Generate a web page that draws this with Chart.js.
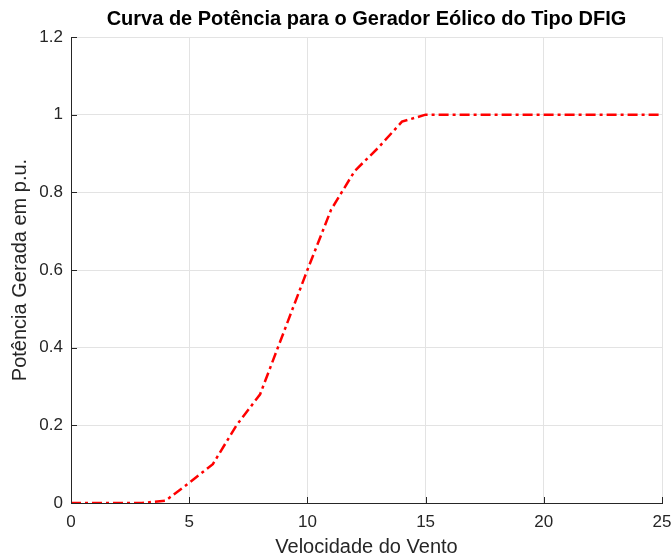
<!DOCTYPE html>
<html>
<head>
<meta charset="utf-8">
<script src="https://cdn.jsdelivr.net/npm/chart.js@4.4.0/dist/chart.umd.min.js"></script>
<style>
  html, body { margin: 0; padding: 0; background: #fff; }
  #wrap { width: 672px; height: 559px; }
</style>
</head>
<body>
<div id="wrap"><canvas id="powerCurve"></canvas></div>
<script>
// Wind speed (m/s) and generated power (p.u.)
const windSpeed = [0, 1, 2, 3, 4, 5, 6, 7, 8, 9, 10, 11, 12, 13, 14, 15, 16, 17, 18, 19, 20, 21, 22, 23, 24, 25];
const powerPU = [0, 0, 0, 0, 0.006, 0.052, 0.1, 0.2, 0.28, 0.44, 0.6, 0.755, 0.855, 0.915, 0.982, 1, 1, 1, 1, 1, 1, 1, 1, 1, 1, 1];
const xTicks = [0, 5, 10, 15, 20, 25];
const yTicks = [0, 0.2, 0.4, 0.6, 0.8, 1, 1.2];

const chartTitle = 'Curva de Potência para o Gerador Eólico do Tipo DFIG';
const fontFamily = '"Liberation Sans", Arial, Helvetica, sans-serif';
const axisColor = '#262626';

// Title centred over the plot area and inward ticks (MATLAB style)
const matlabStyle = {
    id: 'matlabStyle',
    afterDraw(chart) {
        const { ctx, chartArea, scales } = chart;
        ctx.save();
        ctx.strokeStyle = axisColor;
        ctx.lineWidth = 1;
        ctx.beginPath();
        xTicks.forEach(v => {
            const px = Math.round(scales.x.getPixelForValue(v)) + 0.5;
            ctx.moveTo(px, chartArea.bottom);
            ctx.lineTo(px, chartArea.bottom - 6);
        });
        yTicks.forEach(v => {
            const py = Math.round(scales.y.getPixelForValue(v)) + 0.5;
            ctx.moveTo(chartArea.left, py);
            ctx.lineTo(chartArea.left + 6, py);
        });
        ctx.stroke();

        ctx.fillStyle = '#000';
        ctx.font = 'bold 20px ' + fontFamily;
        ctx.textAlign = 'center';
        ctx.textBaseline = 'middle';
        ctx.fillText(chartTitle, (chartArea.left + chartArea.right) / 2, 19);
        ctx.restore();
    }
};

new Chart(document.getElementById('powerCurve'), {
    type: 'line',
    data: {
        datasets: [{
            data: windSpeed.map((v, i) => ({ x: v, y: powerPU[i] })),
            borderColor: '#ff0000',
            borderWidth: 2.5,
            borderDash: [10, 4, 3, 4],
            pointRadius: 0,
            tension: 0,
            fill: false
        }]
    },
    options: {
        responsive: true,
        maintainAspectRatio: false,
        animation: false,
        layout: { padding: { top: 37, right: 10, left: 0, bottom: 0 } },
        plugins: {
            legend: { display: false },
            tooltip: { enabled: false }
        },
        scales: {
            x: {
                type: 'linear',
                min: 0,
                max: 25,
                afterFit: s => { s.height = 56; s.paddingLeft = 0; s.paddingRight = 0; },
                afterBuildTicks: s => { s.ticks = xTicks.map(v => ({ value: v })); },
                grid: { color: '#e3e3e3', drawTicks: false, tickLength: 0 },
                border: { color: axisColor, width: 1 },
                ticks: { color: axisColor, padding: 9, font: { family: fontFamily, size: 17 } },
                title: {
                    display: true,
                    text: 'Velocidade do Vento',
                    color: axisColor,
                    padding: { top: 0, bottom: 0 },
                    font: { family: fontFamily, size: 20 }
                }
            },
            y: {
                type: 'linear',
                min: 0,
                max: 1.2,
                afterFit: s => { s.width = 71; s.paddingTop = 0; s.paddingBottom = 0; },
                afterBuildTicks: s => { s.ticks = yTicks.map(v => ({ value: v })); },
                grid: { color: '#e3e3e3', drawTicks: false, tickLength: 0 },
                border: { color: axisColor, width: 1 },
                ticks: {
                    color: axisColor,
                    padding: 8,
                    font: { family: fontFamily, size: 17 },
                    callback: v => String(+v.toFixed(1))
                },
                title: {
                    display: true,
                    text: 'Potência Gerada em p.u.',
                    color: axisColor,
                    padding: { top: 8, bottom: 0 },
                    font: { family: fontFamily, size: 20 }
                }
            }
        }
    },
    plugins: [matlabStyle]
});
</script>
</body>
</html>
